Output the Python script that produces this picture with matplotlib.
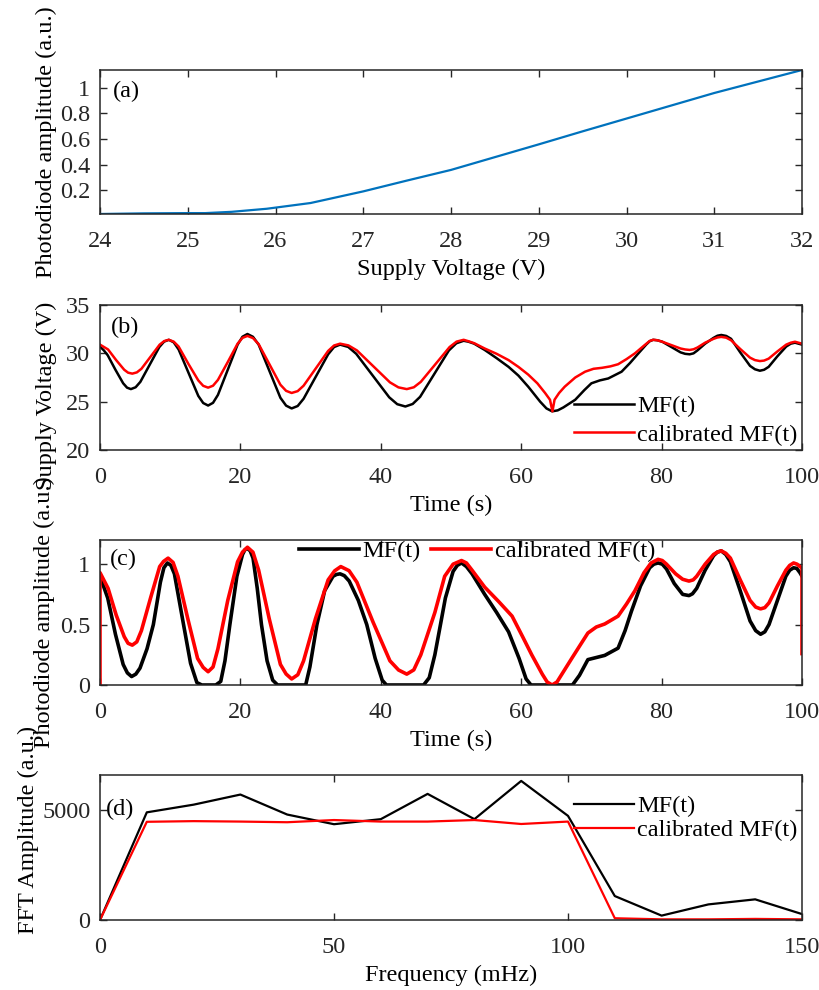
import matplotlib
matplotlib.use("Agg")
import matplotlib.pyplot as plt

plt.rcParams["font.family"] = ["Liberation Serif", "DejaVu Serif"]
plt.rcParams["font.size"] = 17.5

# (a) calibration curve
volt_a = [24, 24.5, 25, 25.2, 25.5, 25.9, 26.4, 27, 27.5, 28, 28.5, 29, 29.5,
          30, 30.5, 31, 31.5, 32]
amp_a = [0.013, 0.018, 0.02, 0.02, 0.03, 0.054, 0.099, 0.19, 0.275, 0.358,
         0.458, 0.558, 0.66, 0.76, 0.86, 0.96, 1.05, 1.14]

# (b) supply voltage vs time
t_b_mf = [0, 0.55, 1.1, 2.2, 3.3, 3.85, 4.4, 5.075, 5.75, 7.1,
          8.45, 9.125, 9.8, 10.5, 11.2, 12.6, 14.0, 14.7, 15.4, 16.1,
          16.8, 18.2, 19.6, 20.3, 21.0, 21.79, 22.6, 24.15, 25.7, 26.51,
          27.3, 28.16, 29.0, 30.75, 32.5, 33.34, 34.2, 35.36, 36.5, 38.85,
          41.2, 42.34, 43.5, 44.54, 45.6, 47.65, 49.7, 50.76, 51.8, 52.5,
          53.3, 54.8, 56.5, 58.2, 59.6, 61.0, 62.7, 63.6, 64.4, 65.2,
          66.0, 67.7, 69.0, 70.0, 71.2, 72.4, 74.3, 75.5, 76.7, 77.8,
          78.3, 78.8, 79.4, 80.1, 81.4, 82.7, 83.35, 84.0, 84.55, 85.1,
          86.2, 87.4, 87.95, 88.5, 89.2, 89.9, 91.2, 92.6, 93.3, 94.0,
          94.6, 95.25, 96.5, 97.75, 98.4, 99.0, 100]
v_b_mf = [30.7, 30.3, 29.8, 28.3, 26.9, 26.45, 26.3, 26.49, 27.05, 28.85,
          30.65, 31.21, 31.4, 31.14, 30.4, 28.0, 25.6, 24.86, 24.6, 24.88,
          25.7, 28.3, 30.9, 31.72, 32.0, 31.71, 30.9, 28.15, 25.4, 24.59,
          24.3, 24.55, 25.3, 27.6, 29.9, 30.65, 30.9, 30.66, 29.95, 27.7,
          25.45, 24.74, 24.5, 24.76, 25.5, 27.9, 30.3, 31.04, 31.3, 31.2,
          31.0, 30.35, 29.5, 28.6, 27.7, 26.55, 25.0, 24.3, 24.0, 24.1,
          24.4, 25.2, 26.2, 26.9, 27.2, 27.4, 28.1, 29.0, 30.0, 30.9,
          31.25, 31.4, 31.35, 31.2, 30.65, 30.1, 29.95, 29.9, 30.0, 30.3,
          31.0, 31.6, 31.82, 31.9, 31.8, 31.5, 30.1, 28.7, 28.35, 28.2,
          28.3, 28.6, 29.7, 30.7, 31.0, 31.1, 30.9]
t_b_cal = [0, 1.15, 2.3, 3.45, 4.0, 4.6, 5.25, 5.9, 7.2, 8.5,
           9.15, 9.8, 10.5, 11.2, 12.6, 14.0, 14.7, 15.4, 16.1, 16.8,
           18.2, 19.6, 20.3, 21.0, 21.79, 22.6, 24.15, 25.7, 26.51, 27.3,
           28.16, 29.0, 30.75, 32.5, 33.34, 34.2, 35.39, 36.6, 38.95, 41.3,
           42.51, 43.7, 44.71, 45.7, 47.75, 49.8, 50.79, 51.8, 52.5, 53.3,
           54.8, 56.5, 58.2, 59.6, 61.0, 62.3, 63.4, 64.1, 64.45, 64.75,
           65.4, 66.2, 67.7, 69.1, 70.3, 71.5, 72.7, 73.8, 75.0, 76.2,
           77.5, 78.3, 78.8, 79.4, 80.1, 81.4, 82.7, 83.35, 84.0, 84.55,
           85.1, 86.2, 87.4, 87.95, 88.5, 89.2, 89.9, 91.2, 92.6, 93.3,
           94.0, 94.6, 95.25, 96.5, 97.75, 98.4, 99.0, 100]
v_b_cal = [30.9, 30.4, 29.3, 28.3, 28.0, 27.9, 28.03, 28.4, 29.65, 30.9,
           31.27, 31.4, 31.21, 30.7, 28.9, 27.2, 26.64, 26.45, 26.65, 27.25,
           29.1, 31.0, 31.6, 31.8, 31.58, 30.95, 28.85, 26.75, 26.12, 25.9,
           26.09, 26.65, 28.45, 30.25, 30.81, 31.0, 30.82, 30.3, 28.65, 27.0,
           26.48, 26.3, 26.49, 27.05, 28.85, 30.65, 31.21, 31.4, 31.25, 31.05,
           30.5, 29.95, 29.3, 28.6, 27.8, 26.9, 25.9, 25.2, 24.0, 25.2,
           25.9, 26.55, 27.5, 28.1, 28.4, 28.5, 28.65, 28.87, 29.4, 30.0,
           30.8, 31.28, 31.4, 31.35, 31.2, 30.85, 30.5, 30.4, 30.35, 30.42,
           30.6, 31.1, 31.5, 31.64, 31.7, 31.62, 31.35, 30.45, 29.55, 29.3,
           29.2, 29.25, 29.45, 30.2, 30.9, 31.1, 31.2, 31.0]

# (c) photodiode amplitude vs time
t_c_mf = [0, 1.1, 2.2, 3.3, 3.9, 4.5, 5.1, 5.7, 6.7, 7.6,
          8.6, 9.1, 9.6, 10.1, 10.6, 11.9, 12.9, 13.8, 14.5, 16.5,
          17.2, 17.8, 18.5, 19.5, 20.3, 20.65, 21.0, 21.4, 21.8, 22.4,
          23.0, 23.8, 24.6, 25.3, 29.3, 29.9, 30.9, 32.0, 33.2, 33.7,
          34.2, 34.8, 35.5, 36.8, 38.0, 39.2, 40.2, 40.8, 46.1, 46.9,
          47.7, 48.5, 49.2, 50.3, 50.9, 51.5, 52.2, 53.0, 54.8, 56.5,
          58.2, 59.7, 60.7, 61.4, 67.3, 68.3, 69.5, 71.9, 73.8, 74.8,
          75.7, 77.0, 78.3, 78.9, 79.5, 80.1, 80.7, 81.8, 83.0, 83.9,
          84.4, 85.0, 86.2, 87.4, 87.95, 88.5, 89.15, 89.8, 91.2, 92.6,
          93.4, 94.1, 94.7, 95.3, 96.5, 97.7, 98.25, 98.8, 99.25, 99.7,
          100]
a_c_mf = [0.90, 0.72, 0.42, 0.17, 0.10, 0.07, 0.09, 0.14, 0.30, 0.50,
          0.85, 0.97, 1.01, 0.99, 0.92, 0.50, 0.18, 0.02, 0.0, 0.0,
          0.03, 0.20, 0.50, 0.90, 1.08, 1.12, 1.13, 1.11, 1.05, 0.80,
          0.50, 0.20, 0.04, 0.0, 0.0, 0.15, 0.50, 0.78, 0.90, 0.915,
          0.92, 0.905, 0.86, 0.70, 0.50, 0.22, 0.04, 0.0, 0.0, 0.06,
          0.25, 0.50, 0.72, 0.94, 0.99, 1.01, 0.98, 0.92, 0.75, 0.60,
          0.44, 0.22, 0.05, 0.0, 0.0, 0.08, 0.21, 0.245, 0.305, 0.45,
          0.61, 0.82, 0.97, 1.0, 1.01, 1.0, 0.96, 0.84, 0.75, 0.74,
          0.755, 0.80, 0.95, 1.07, 1.10, 1.11, 1.08, 1.02, 0.78, 0.53,
          0.45, 0.42, 0.44, 0.50, 0.70, 0.90, 0.95, 0.97, 0.965, 0.93,
          0.90]
t_c_cal = [0, 0, 1.15, 2.3, 3.45, 4.0, 4.6, 5.24, 5.9, 7.2,
           8.5, 9.06, 9.7, 10.41, 11.1, 12.5, 13.9, 14.69, 15.4, 16.1,
           16.8, 18.2, 19.6, 20.3, 21.0, 21.79, 22.6, 24.1, 25.7, 26.51,
           27.3, 28.18, 29.0, 30.7, 32.5, 33.43, 34.3, 35.48, 36.6, 38.9,
           41.3, 42.53, 43.7, 44.7, 45.7, 47.7, 49.1, 50.3, 51.5, 52.2,
           53.0, 54.8, 56.8, 58.7, 60.2, 61.5, 63.0, 63.7, 64.4, 65.1,
           65.8, 67.2, 68.4, 69.5, 70.7, 71.9, 73.8, 75.0, 76.2, 77.5,
           78.5, 79.5, 80.1, 80.7, 82.0, 83.0, 83.9, 84.5, 85.0, 86.2,
           87.4, 87.95, 88.5, 89.15, 89.8, 91.2, 92.6, 93.4, 94.1, 94.7,
           95.3, 96.5, 97.7, 98.25, 98.8, 99.3, 99.7, 100, 100]
a_c_cal = [0.0, 0.93, 0.80, 0.58, 0.40, 0.345, 0.33, 0.357, 0.45, 0.72,
           0.98, 1.023, 1.05, 1.014, 0.90, 0.55, 0.22, 0.146, 0.11, 0.149,
           0.30, 0.70, 1.02, 1.10, 1.14, 1.099, 0.95, 0.55, 0.17, 0.091,
           0.05, 0.085, 0.20, 0.55, 0.87, 0.945, 0.98, 0.946, 0.85, 0.52,
           0.20, 0.124, 0.09, 0.125, 0.25, 0.60, 0.90, 1.00, 1.03, 1.01,
           0.95, 0.81, 0.69, 0.57, 0.40, 0.25, 0.09, 0.025, 0.0, 0.025,
           0.09, 0.22, 0.33, 0.43, 0.48, 0.505, 0.57, 0.67, 0.78, 0.93,
           1.01, 1.04, 1.03, 1.00, 0.92, 0.875, 0.86, 0.87, 0.90, 1.00,
           1.08, 1.10, 1.11, 1.09, 1.05, 0.87, 0.70, 0.645, 0.63, 0.64,
           0.68, 0.82, 0.95, 0.99, 1.01, 1.0, 0.98, 0.97, 0.26]

# (d) FFT amplitude
freq = [0, 10, 20, 30, 40, 50, 60, 70, 80, 90, 100, 110, 120, 130, 140, 150]
fft_mf = [0, 4900, 5250, 5710, 4800, 4360, 4590, 5740, 4590, 6330, 4740, 1090,
          200, 710, 940, 270]
fft_cal = [0, 4470, 4500, 4480, 4450, 4550, 4480, 4480, 4550, 4370, 4480, 80,
           30, 30, 50, 30]

INK = "#262626"
BLUE = "#0072BD"


def style_axes(ax):
    for s in ax.spines.values():
        s.set_color(INK)
        s.set_linewidth(1.1)
    ax.tick_params(direction="in", top=True, right=True, length=5, width=1,
                   colors=INK, labelcolor=INK)
    ax.tick_params(axis="x", pad=12)
    ax.tick_params(axis="y", pad=7)


fig = plt.figure(figsize=(8.2, 9.9), dpi=100)
left, width = 100 / 820, 702 / 820
ax_a = fig.add_axes([left, 1 - 214 / 990, width, 144 / 990])
ax_b = fig.add_axes([left, 1 - 450 / 990, width, 145 / 990])
ax_c = fig.add_axes([left, 1 - 685 / 990, width, 145 / 990])
ax_d = fig.add_axes([left, 1 - 920 / 990, width, 145 / 990])

leg_kw = dict(frameon=False, handlelength=2.45, handletextpad=0.15,
              borderaxespad=0.0, borderpad=0.0)

# (a)
ax_a.plot(volt_a, amp_a, color=BLUE, lw=1.6)
ax_a.set_xlim(24, 32)
ax_a.set_ylim(0.013, 1.14)
ax_a.set_yticks([0.2, 0.4, 0.6, 0.8, 1.0])
ax_a.set_yticklabels(["0.2", "0.4", "0.6", "0.8", "1"])
ax_a.set_xlabel("Supply Voltage (V)", labelpad=5)
ax_a.set_ylabel("Photodiode amplitude (a.u.)")
ax_a.yaxis.set_label_coords(-0.061, 0.5)
ax_a.text(24.15, 0.97, "(a)", va="center", ha="left")
style_axes(ax_a)

# (b)
ax_b.plot(t_b_mf, v_b_mf, color="black", lw=1.8, label="MF(t)")
ax_b.plot(t_b_cal, v_b_cal, color="red", lw=1.8, label="calibrated MF(t)")
ax_b.set_xlim(0, 100)
ax_b.set_ylim(20, 35)
ax_b.set_yticks([20, 25, 30, 35])
ax_b.set_xlabel("Time (s)", labelpad=5)
ax_b.set_ylabel("Supply Voltage (V)")
ax_b.yaxis.set_label_coords(-0.061, 0.372)
ax_b.text(1.6, 32.7, "(b)", va="center", ha="left")
ax_b.legend(loc="lower right", bbox_to_anchor=(0.994, 0.03),
            labelspacing=0.27, **leg_kw)
style_axes(ax_b)

# (c)
ax_c.plot(t_c_mf, a_c_mf, color="black", lw=2.6, label="MF(t)")
ax_c.plot(t_c_cal, a_c_cal, color="red", lw=2.6, label="calibrated MF(t)")
ax_c.set_xlim(0, 100)
ax_c.set_ylim(0, 1.2)
ax_c.set_yticks([0, 0.5, 1])
ax_c.set_yticklabels(["0", "0.5", "1"])
ax_c.set_xlabel("Time (s)", labelpad=5)
ax_c.set_ylabel("Photodiode amplitude (a.u.)")
ax_c.yaxis.set_label_coords(-0.064, 0.5)
ax_c.text(1.4, 1.04, "(c)", va="center", ha="left")
ax_c.legend(loc="upper center", ncol=2, columnspacing=0.45,
            bbox_to_anchor=(0.537, 1.0), **leg_kw)
style_axes(ax_c)

# (d)
ax_d.plot(freq, fft_mf, color="black", lw=1.6, label="MF(t)")
ax_d.plot(freq, fft_cal, color="red", lw=1.6, label="calibrated MF(t)")
ax_d.set_xlim(0, 150)
ax_d.set_ylim(0, 6600)
ax_d.set_yticks([0, 5000])
ax_d.set_xticks([0, 50, 100, 150])
ax_d.set_xlabel("Frequency (mHz)", labelpad=5)
ax_d.set_ylabel("FFT Amplitude (a.u.)")
ax_d.yaxis.set_label_coords(-0.087, 0.62)
ax_d.text(1.3, 5050, "(d)", va="center", ha="left")
ax_d.legend(loc="upper right", bbox_to_anchor=(0.994, 0.86),
            labelspacing=0.08, **leg_kw)
style_axes(ax_d)

fig.savefig("out.png", dpi=100)
